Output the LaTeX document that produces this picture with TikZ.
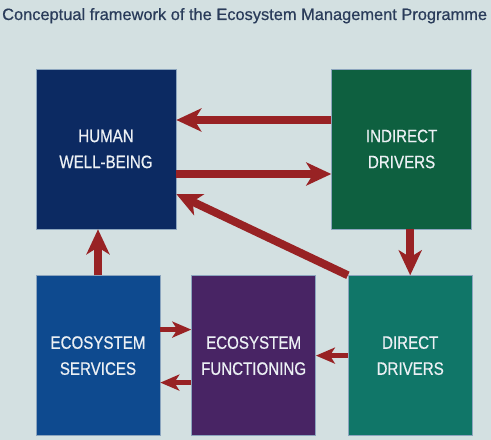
\documentclass[tikz,border=0pt]{standalone}
\usepackage{fontspec}
\setmainfont{Liberation Sans}
\newfontfamily\titlefont{Liberation Sans}[FakeBold=0.6]
\newfontfamily\boxfont{Liberation Sans}[FakeStretch=0.84, FakeBold=0.6]
\usetikzlibrary{arrows.meta,positioning}

\definecolor{bgcolor}{RGB}{211,224,225}
\definecolor{titlecolor}{RGB}{42,60,90}
\definecolor{arrowred}{RGB}{152,34,36}
\definecolor{boxedge}{RGB}{140,165,190}
\definecolor{humanblue}{RGB}{12,42,98}
\definecolor{indirectgreen}{RGB}{14,96,64}
\definecolor{servicesblue}{RGB}{14,74,143}
\definecolor{functionpurple}{RGB}{72,36,100}
\definecolor{directteal}{RGB}{16,118,104}
\definecolor{boxtext}{RGB}{236,240,244}

\begin{document}
\begin{tikzpicture}[
		x=1pt, y=1pt,
		node distance=31pt,
		block/.style={draw=boxedge, line width=0.6pt, minimum height=160pt, inner sep=0pt, align=center, text=boxtext, font=\boxfont\fontsize{18}{26}\selectfont},
		topblock/.style={block, minimum width=140pt},
		lowblock/.style={block, minimum width=124pt},
		bigarrow/.style={draw=arrowred, line width=8pt, -{Stealth[length=25pt, width=23pt, inset=7pt]}},
		smallarrow/.style={draw=arrowred, line width=5pt, -{Stealth[length=19pt, width=16pt, inset=5pt]}},
	]
		\fill[bgcolor] (0,0) rectangle (491,440);
		\useasboundingbox (0,0) rectangle (491,440);

		\node (title) [anchor=base west, text=titlecolor, font=\titlefont\fontsize{16.4}{20}\selectfont, inner sep=0pt] at (2,420) {Conceptual framework of the Ecosystem Management Programme};

		\node (human wellbeing) [topblock, fill=humanblue] at (106,291) {HUMAN\\WELL-BEING};
		\node (indirect drivers) [topblock, fill=indirectgreen, right=155pt of human wellbeing] {INDIRECT\\DRIVERS};

		\node (eco services) [lowblock, fill=servicesblue, below=46pt of human wellbeing.south west, anchor=north west] {ECOSYSTEM\\SERVICES};
		\node (eco functioning) [lowblock, fill=functionpurple, right=of eco services] {ECOSYSTEM\\FUNCTIONING};
		\node (direct drivers) [lowblock, fill=directteal, right=32pt of eco functioning] {DIRECT\\DRIVERS};

		\draw[bigarrow] ([yshift=29pt]indirect drivers.west) -- ([yshift=29pt]human wellbeing.east);
		\draw[bigarrow] ([yshift=-25pt]human wellbeing.east) -- ([yshift=-25pt]indirect drivers.west);
		\draw[bigarrow] (direct drivers.north west) -- ([yshift=-45pt]human wellbeing.east);
		\draw[bigarrow] (direct drivers.north |- indirect drivers.south) -- (direct drivers.north);
		\draw[bigarrow] (eco services.north) -- (eco services.north |- human wellbeing.south);

		\draw[smallarrow] ([yshift=26pt]eco services.east) -- ([yshift=26pt]eco functioning.west);
		\draw[smallarrow] ([yshift=-27pt]eco functioning.west) -- ([yshift=-27pt]eco services.east);
		\draw[smallarrow] (direct drivers.west) -- (eco functioning.east);
	\end{tikzpicture}
\end{document}
